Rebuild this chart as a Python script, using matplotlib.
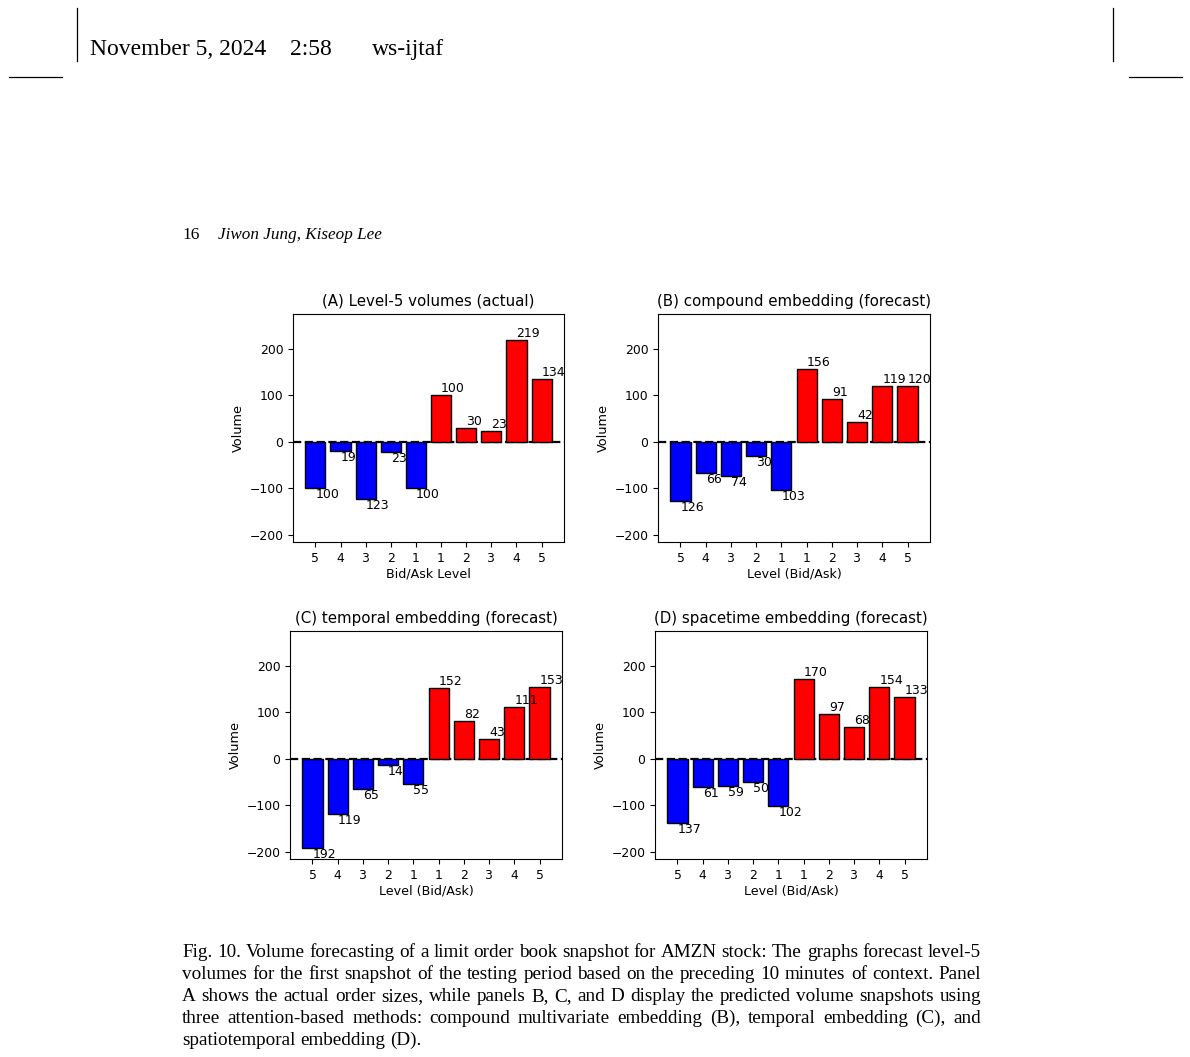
import numpy as np
import matplotlib
matplotlib.use("Agg")
import matplotlib.pyplot as plt
from matplotlib.lines import Line2D

plt.rcParams['font.family'] = ['DejaVu Sans']

W, H = 1190, 1057

# level-5 volumes: bid side (levels 5..1), ask side (levels 1..5)
tick_labels = ["5", "4", "3", "2", "1", "1", "2", "3", "4", "5"]

bid_actual = [100, 19, 123, 23, 100]
ask_actual = [100, 30, 23, 219, 134]

bid_compound = [126, 66, 74, 30, 103]
ask_compound = [156, 91, 42, 119, 120]

bid_temporal = [192, 119, 65, 14, 55]
ask_temporal = [152, 82, 43, 111, 153]

bid_spacetime = [137, 61, 59, 50, 102]
ask_spacetime = [170, 97, 68, 154, 133]

titles = ["(A) Level-5 volumes (actual)",
          "(B) compound embedding (forecast)",
          "(C) temporal embedding (forecast)",
          "(D) spacetime embedding (forecast)"]
xlabels = ["Bid/Ask Level", "Level (Bid/Ask)", "Level (Bid/Ask)", "Level (Bid/Ask)"]

caption = [
    "Fig. 10. Volume forecasting of a limit order book snapshot for AMZN stock: The graphs forecast level-5",
    "volumes for the first snapshot of the testing period based on the preceding 10 minutes of context. Panel",
    "A shows the actual order sizes, while panels B, C, and D display the predicted volume snapshots using",
    "three attention-based methods: compound multivariate embedding (B), temporal embedding (C), and",
    "spatiotemporal embedding (D).",
]


def px(x, y):
    return x / W, 1 - y / H


def rect(x0, y0, x1, y1):
    return [x0 / W, 1 - y1 / H, (x1 - x0) / W, (y1 - y0) / H]


fig = plt.figure(figsize=(W / 100, H / 100), dpi=100)
fig.patch.set_facecolor("white")

# page header
for x0, y0, x1, y1 in [(77, 8, 77, 61), (9, 77, 62, 77), (1113, 8, 1113, 61), (1129, 77, 1182, 77)]:
    fig.add_artist(Line2D([x0 / W, x1 / W], [1 - y0 / H, 1 - y1 / H], color="black", lw=0.9))

serif = "Liberation Serif"
fig.text(*px(90, 55), "November 5, 2024", family=serif, fontsize=17, va="baseline")
fig.text(*px(290, 55), "2:58", family=serif, fontsize=17, va="baseline")
fig.text(*px(372, 55), "ws-ijtaf", family=serif, fontsize=17, va="baseline")
fig.text(*px(182, 239), "16", family=serif, fontsize=12.5, va="baseline")
fig.text(*px(218, 239), "Jiwon Jung, Kiseop Lee", family=serif, fontsize=12.3,
         style="italic", va="baseline")

# panels
panels = [
    (bid_actual, ask_actual, (293, 314, 564, 542)),
    (bid_compound, ask_compound, (658, 314, 930, 542)),
    (bid_temporal, ask_temporal, (290, 631, 562, 859)),
    (bid_spacetime, ask_spacetime, (655, 631, 927, 859)),
]

for k, (bid, ask, box) in enumerate(panels):
    ax = fig.add_axes(rect(*box))
    vals = [-v for v in bid] + list(ask)
    colors = ["blue"] * len(bid) + ["red"] * len(ask)
    x = np.arange(len(vals))
    ax.bar(x, vals, width=0.8, color=colors, edgecolor="black", linewidth=1.0)
    ax.axhline(0, color="black", linestyle="--", linewidth=1.6, zorder=0.5)
    for i, v in zip(x, vals):
        ax.text(i, v, str(abs(v)), ha="left", va="bottom" if v > 0 else "top", fontsize=9)
    ax.set_xticks(x)
    ax.set_xticklabels(tick_labels)
    ax.set_yticks([-200, -100, 0, 100, 200])
    ax.set_ylim(-215, 274)
    ax.set_xlim(-0.89, 9.89)
    ax.tick_params(labelsize=8.9, length=3.5, width=0.8)
    ax.set_title(titles[k], fontsize=10.8, pad=6)
    ax.set_xlabel(xlabels[k], fontsize=9.1, labelpad=2)
    ax.set_ylabel("Volume", fontsize=9.3, labelpad=3)

# justified caption
r = fig.canvas.get_renderer()
cap_x0, cap_x1 = 182, 981
cap_size = 13.8
probe1 = fig.text(0, 0, "a a", family=serif, fontsize=cap_size)
probe2 = fig.text(0, 0, "aa", family=serif, fontsize=cap_size)
space = probe1.get_window_extent(r).width - probe2.get_window_extent(r).width
probe1.remove()
probe2.remove()

for n, line in enumerate(caption):
    y = 957 + 22 * n
    words = line.split()
    ts = [fig.text(0, 0, w, family=serif, fontsize=cap_size, va="baseline") for w in words]
    widths = [t.get_window_extent(r).width for t in ts]
    if n < len(caption) - 1:
        gap = (cap_x1 - cap_x0 - sum(widths)) / (len(words) - 1)
    else:
        gap = space
    xx = cap_x0
    for t, w in zip(ts, widths):
        t.set_position(px(xx, y))
        xx += w + gap

fig.savefig("out.png", dpi=100)
